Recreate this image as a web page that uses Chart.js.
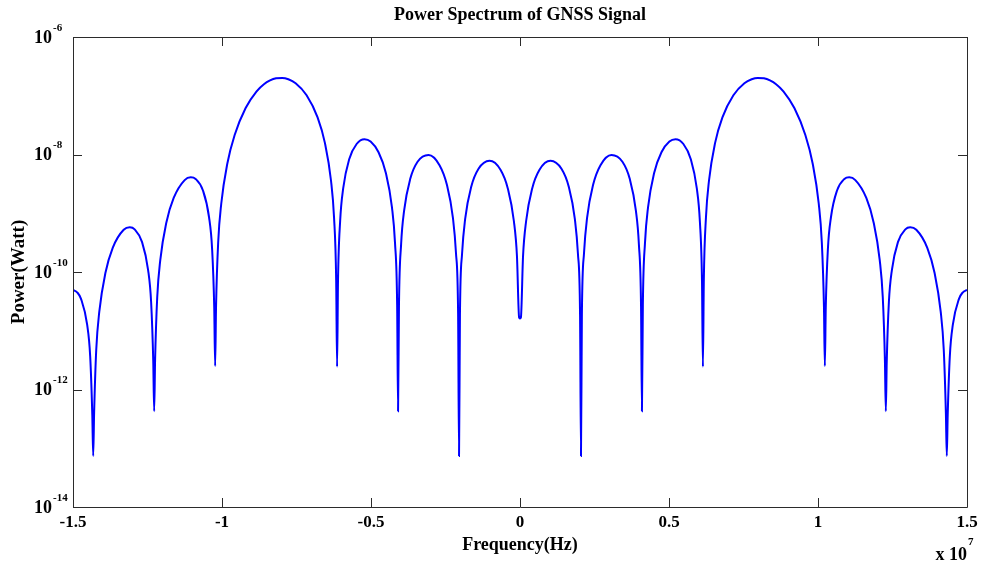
<!DOCTYPE html>
<html>
<head>
<meta charset="utf-8">
<title>Power Spectrum of GNSS Signal</title>
<script src="https://cdn.jsdelivr.net/npm/chart.js@4.4.1/dist/chart.umd.min.js"></script>
<style>
  html, body { margin: 0; padding: 0; background: #fff; }
  canvas { display: block; }
</style>
</head>
<body>
<canvas id="psd" width="985" height="568"></canvas>
<script>
// frequency in units of 10^7 Hz (the axis carries the "x 10^7" note)
const freq = [
  -1.5, -1.4854, -1.47312, -1.45266, -1.44243, -1.43527,
  -1.4322, -1.42913, -1.42197, -1.41174, -1.39128, -1.36673, -1.3299, -1.30944, -1.29307, -1.26852, -1.24806, -1.23783, -1.23067,
  -1.2276, -1.22453, -1.21737, -1.20714, -1.18668, -1.16213, -1.1253, -1.10484, -1.08847, -1.06392, -1.04346, -1.03323, -1.02607,
  -1.023, -1.01993, -1.01277, -1.00254, -0.98208, -0.95753, -0.9207, -0.88387, -0.85932, -0.83886, -0.8184, -0.79794, -0.77748, -0.75293, -0.7161, -0.67927, -0.65472, -0.63426, -0.62403, -0.61687,
  -0.6138, -0.61073, -0.60357, -0.59334, -0.57288, -0.54833, -0.52173, -0.50127, -0.47467, -0.45012, -0.42966, -0.41943, -0.41227,
  -0.4092, -0.40613, -0.39897, -0.38874, -0.36828, -0.34373, -0.3069, -0.27007, -0.24552, -0.22506, -0.21483, -0.20767,
  -0.2046, -0.20153, -0.19437, -0.18414, -0.16368, -0.13913, -0.1023, -0.06547, -0.04092, -0.02046, -0.01023, -0.00307,
  0,
  0.00307, 0.01023, 0.02046, 0.04092, 0.06547, 0.1023, 0.13913, 0.16368, 0.18414, 0.19437, 0.20153,
  0.2046, 0.20767, 0.21483, 0.22506, 0.24552, 0.27007, 0.3069, 0.34373, 0.36828, 0.38874, 0.39897, 0.40613,
  0.4092, 0.41227, 0.41943, 0.42966, 0.45012, 0.47467, 0.50127, 0.52173, 0.54833, 0.57288, 0.59334, 0.60357, 0.61073,
  0.6138, 0.61687, 0.62403, 0.63426, 0.65472, 0.67927, 0.7161, 0.75293, 0.77748, 0.79794, 0.8184, 0.83886, 0.85932, 0.88387, 0.9207, 0.95753, 0.98208, 1.00254, 1.01277, 1.01993,
  1.023, 1.02607, 1.03323, 1.04346, 1.06392, 1.08847, 1.10484, 1.1253, 1.16213, 1.18668, 1.20714, 1.21737, 1.22453,
  1.2276, 1.23067, 1.23783, 1.24806, 1.26852, 1.29307, 1.30944, 1.3299, 1.36673, 1.39128, 1.41174, 1.42197, 1.42913,
  1.4322, 1.43527, 1.44243, 1.45266, 1.47312, 1.4854, 1.5
];

// power in watts
const power = [
  4.95e-11, 4.47e-11, 3.49e-11, 1.28e-11, 3.73e-12, 3.71e-13,
  7.41e-14, 4.00e-13, 4.80e-12, 2.11e-11, 9.62e-11, 2.58e-10, 5.24e-10, 5.78e-10, 5.32e-10, 3.25e-10, 1.09e-10, 3.06e-11, 2.96e-12,
  4.27e-13, 3.14e-12, 3.71e-11, 1.59e-10, 6.98e-10, 1.82e-9, 3.67e-9, 4.09e-9, 3.84e-9, 2.44e-9, 8.55e-10, 2.48e-10, 2.47e-11,
  2.51e-12, 2.67e-11, 3.23e-10, 1.45e-9, 7.03e-9, 2.15e-8, 6.18e-8, 1.19e-7, 1.57e-7, 1.82e-7, 1.98e-7, 2.01e-7, 1.91e-7, 1.63e-7, 1.02e-7, 4.29e-8, 1.58e-8, 3.61e-9, 8.51e-10, 7.30e-11,
  2.45e-12, 6.95e-11, 7.30e-10, 2.65e-9, 8.41e-9, 1.51e-8, 1.82e-8, 1.66e-8, 1.09e-8, 4.85e-9, 1.26e-9, 3.13e-10, 2.77e-11,
  4.27e-13, 2.72e-11, 2.95e-10, 1.12e-9, 3.85e-9, 7.53e-9, 9.84e-9, 6.59e-9, 3.08e-9, 8.32e-10, 2.10e-10, 1.89e-11,
  7.41e-14, 1.88e-11, 2.06e-10, 7.94e-10, 2.82e-9, 5.71e-9, 7.83e-9, 5.51e-9, 2.65e-9, 7.31e-10, 1.87e-10, 1.69e-11,
  1.62e-11,
  1.69e-11, 1.87e-10, 7.31e-10, 2.65e-9, 5.51e-9, 7.83e-9, 5.71e-9, 2.82e-9, 7.94e-10, 2.06e-10, 1.88e-11,
  7.41e-14, 1.89e-11, 2.10e-10, 8.32e-10, 3.08e-9, 6.59e-9, 9.84e-9, 7.53e-9, 3.85e-9, 1.12e-9, 2.95e-10, 2.72e-11,
  4.27e-13, 2.77e-11, 3.13e-10, 1.26e-9, 4.85e-9, 1.09e-8, 1.66e-8, 1.82e-8, 1.51e-8, 8.41e-9, 2.65e-9, 7.30e-10, 6.95e-11,
  2.45e-12, 7.30e-11, 8.51e-10, 3.61e-9, 1.58e-8, 4.29e-8, 1.02e-7, 1.63e-7, 1.91e-7, 2.01e-7, 1.98e-7, 1.82e-7, 1.57e-7, 1.19e-7, 6.18e-8, 2.15e-8, 7.03e-9, 1.45e-9, 3.23e-10, 2.67e-11,
  2.51e-12, 2.47e-11, 2.48e-10, 8.55e-10, 2.44e-9, 3.84e-9, 4.09e-9, 3.67e-9, 1.82e-9, 6.98e-10, 1.59e-10, 3.71e-11, 3.14e-12,
  4.27e-13, 2.96e-12, 3.06e-11, 1.09e-10, 3.25e-10, 5.32e-10, 5.78e-10, 5.24e-10, 2.58e-10, 9.62e-11, 2.11e-11, 4.80e-12, 4.00e-13,
  7.41e-14, 3.71e-13, 3.73e-12, 1.28e-11, 3.49e-11, 4.47e-11, 4.95e-11
];

const xTicks = [-1.5, -1, -0.5, 0, 0.5, 1, 1.5];
const xTickLabels = ['-1.5', '-1', '-0.5', '0', '0.5', '1', '1.5'];
const yTickExp = [-6, -8, -10, -12, -14];

const serif = '"Liberation Serif", "Times New Roman", serif';
Chart.defaults.font.family = serif;
Chart.defaults.color = '#000';

// matlab style box: frame, inward ticks on all sides, 10^n labels, x 10^7 note
const boxPlugin = {
  id: 'matlabBox',
  afterDraw(chart) {
    const { ctx, chartArea: a, scales: { x, y } } = chart;
    ctx.save();
    ctx.strokeStyle = '#2b2b2b';
    ctx.lineWidth = 1;
    ctx.beginPath();
    ctx.rect(a.left + 0.5, a.top + 0.5, a.right - a.left, a.bottom - a.top);
    xTicks.forEach(v => {
      const px = Math.round(x.getPixelForValue(v)) + 0.5;
      ctx.moveTo(px, a.bottom); ctx.lineTo(px, a.bottom - 9);
      ctx.moveTo(px, a.top); ctx.lineTo(px, a.top + 9);
    });
    yTickExp.forEach(e => {
      const py = Math.round(y.getPixelForValue(Math.pow(10, e))) + 0.5;
      ctx.moveTo(a.left, py); ctx.lineTo(a.left + 9, py);
      ctx.moveTo(a.right, py); ctx.lineTo(a.right - 9, py);
    });
    ctx.stroke();

    ctx.fillStyle = '#000';
    ctx.textBaseline = 'middle';
    ctx.textAlign = 'left';
    yTickExp.forEach(e => {
      const py = y.getPixelForValue(Math.pow(10, e));
      ctx.font = 'bold 18px ' + serif;
      ctx.fillText('10', a.left - 39, py + 1);
      const w = ctx.measureText('10').width;
      ctx.font = 'bold 11px ' + serif;
      ctx.fillText(String(e), a.left - 39 + w + 1, py - 9);
    });

    ctx.font = 'bold 18px ' + serif;
    ctx.textAlign = 'right';
    ctx.fillText('x 10', a.right, 555);
    ctx.font = 'bold 11px ' + serif;
    ctx.textAlign = 'left';
    ctx.fillText('7', a.right + 1, 542);
    ctx.restore();
  }
};

new Chart(document.getElementById('psd'), {
  type: 'line',
  data: {
    datasets: [{
      data: freq.map((f, i) => ({ x: f, y: power[i] })),
      borderColor: '#0000ff',
      borderWidth: 2,
      pointRadius: 0,
      fill: false,
      cubicInterpolationMode: 'monotone'
    }]
  },
  options: {
    responsive: false,
    animation: false,
    devicePixelRatio: 1,
    layout: { padding: { left: 0, right: 18, top: 0, bottom: 0 } },
    plugins: {
      legend: { display: false },
      tooltip: { enabled: false },
      title: {
        display: true,
        text: 'Power Spectrum of GNSS Signal',
        fullSize: false,
        color: '#000',
        font: { size: 18, weight: 'bold' },
        padding: { top: 5, bottom: 10.4 }
      }
    },
    scales: {
      x: {
        type: 'linear',
        min: -1.5,
        max: 1.5,
        afterBuildTicks: s => { s.ticks = xTicks.map(v => ({ value: v })); },
        afterFit: s => { s.height = 61; },
        grid: { display: false, drawTicks: false },
        border: { display: false },
        ticks: {
          font: { size: 17, weight: 'bold' },
          color: '#000',
          padding: 5,
          maxRotation: 0,
          autoSkip: false,
          callback: (v, i) => xTickLabels[i]
        },
        title: {
          display: true,
          text: 'Frequency(Hz)',
          color: '#000',
          font: { size: 18, weight: 'bold' },
          padding: { top: 0, bottom: 12 }
        }
      },
      y: {
        type: 'logarithmic',
        min: 1e-14,
        max: 1e-6,
        afterFit: s => { s.width = 73; },
        grid: { display: false },
        border: { display: false },
        ticks: { display: false },
        title: {
          display: true,
          text: 'Power(Watt)',
          color: '#000',
          font: { size: 19, weight: 'bold' },
          padding: { top: 8, bottom: 0 }
        }
      }
    }
  },
  plugins: [boxPlugin]
});
</script>
</body>
</html>
